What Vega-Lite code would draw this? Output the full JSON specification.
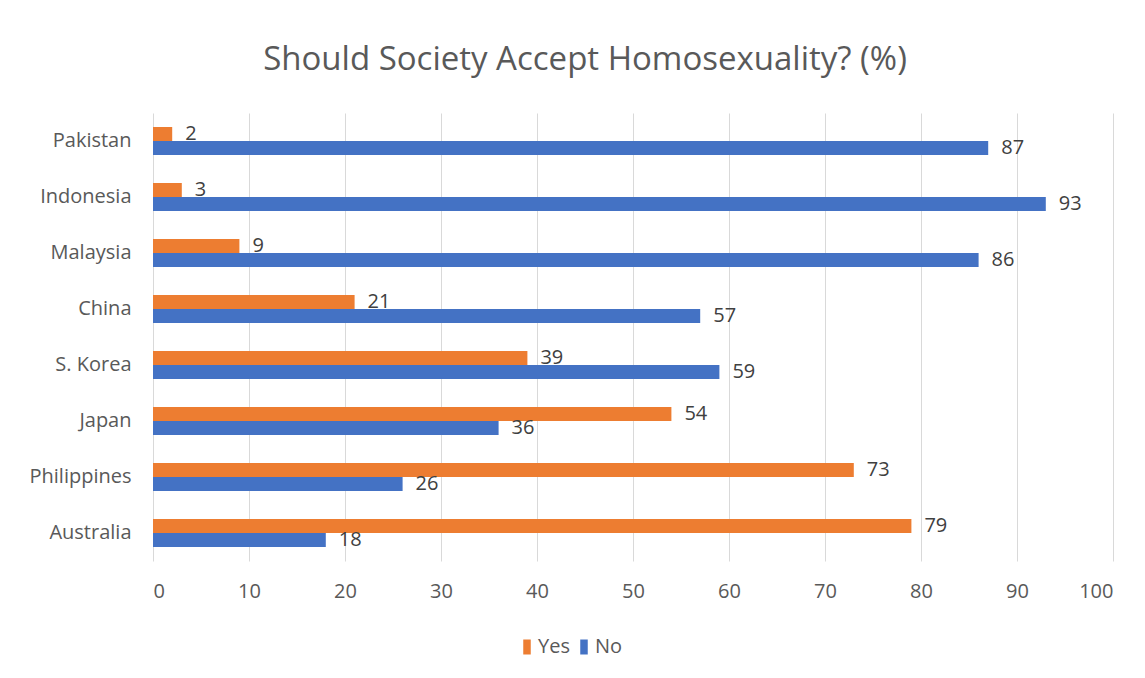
{
  "$schema": "https://vega.github.io/schema/vega-lite/v6.json",
  "autosize": {"type": "none"},
  "width": 960,
  "height": 448,
  "padding": {"left": 153, "top": 113, "right": 32, "bottom": 117},
  "background": "#ffffff",
  "title": {
    "text": "Should Society Accept Homosexuality? (%)",
    "anchor": "middle",
    "dx": -48,
    "offset": 36,
    "font": "Open Sans",
    "fontSize": 33,
    "fontWeight": "normal",
    "color": "#595959"
  },
  "config": {
    "view": {"stroke": null},
    "font": "Open Sans"
  },
  "data": {
    "values": [
      {"country": "Pakistan", "answer": "Yes", "value": 2},
      {"country": "Pakistan", "answer": "No", "value": 87},
      {"country": "Indonesia", "answer": "Yes", "value": 3},
      {"country": "Indonesia", "answer": "No", "value": 93},
      {"country": "Malaysia", "answer": "Yes", "value": 9},
      {"country": "Malaysia", "answer": "No", "value": 86},
      {"country": "China", "answer": "Yes", "value": 21},
      {"country": "China", "answer": "No", "value": 57},
      {"country": "S. Korea", "answer": "Yes", "value": 39},
      {"country": "S. Korea", "answer": "No", "value": 59},
      {"country": "Japan", "answer": "Yes", "value": 54},
      {"country": "Japan", "answer": "No", "value": 36},
      {"country": "Philippines", "answer": "Yes", "value": 73},
      {"country": "Philippines", "answer": "No", "value": 26},
      {"country": "Australia", "answer": "Yes", "value": 79},
      {"country": "Australia", "answer": "No", "value": 18}
    ]
  },
  "encoding": {
    "y": {
      "field": "country",
      "type": "nominal",
      "sort": ["Pakistan", "Indonesia", "Malaysia", "China", "S. Korea", "Japan", "Philippines", "Australia"],
      "scale": {"paddingInner": 0, "paddingOuter": 0},
      "axis": {
        "title": null,
        "domain": false,
        "ticks": false,
        "grid": false,
        "labelPadding": 22,
        "labelFontSize": 20,
        "labelColor": "#595959",
        "labelFont": "Open Sans"
      }
    },
    "yOffset": {
      "field": "answer",
      "type": "nominal",
      "sort": ["Yes", "No"],
      "scale": {"paddingInner": 0, "paddingOuter": 1}
    },
    "x": {
      "field": "value",
      "type": "quantitative",
      "scale": {"domain": [0, 100], "nice": false},
      "axis": {
        "title": null,
        "values": [0, 10, 20, 30, 40, 50, 60, 70, 80, 90, 100],
        "domain": false,
        "ticks": false,
        "grid": true,
        "gridColor": "#d9d9d9",
        "gridWidth": 1,
        "labelPadding": 20,
        "labelFontSize": 20,
        "labelColor": "#595959",
        "labelFont": "Open Sans"
      }
    }
  },
  "layer": [
    {
      "mark": {"type": "bar"},
      "encoding": {
        "color": {
          "field": "answer",
          "type": "nominal",
          "sort": ["Yes", "No"],
          "scale": {"domain": ["Yes", "No"], "range": ["#ED7D31", "#4472C4"]},
          "legend": {
            "title": null,
            "orient": "none",
            "direction": "horizontal",
            "legendX": 364,
            "legendY": 524,
            "padding": 0,
            "symbolType": "M-0.5,-1L0.5,-1L0.5,1L-0.5,1Z",
            "symbolSize": 225,
            "symbolStrokeWidth": 0,
            "labelFontSize": 20,
            "labelColor": "#595959",
            "labelFont": "Open Sans",
            "labelOffset": 1,
            "columnPadding": 4
          }
        }
      }
    },
    {
      "mark": {
        "type": "text",
        "align": "left",
        "baseline": "middle",
        "dx": 13,
        "fontSize": 20,
        "font": "Open Sans",
        "color": "#404040"
      },
      "encoding": {
        "text": {"field": "value", "type": "quantitative"}
      }
    }
  ]
}
